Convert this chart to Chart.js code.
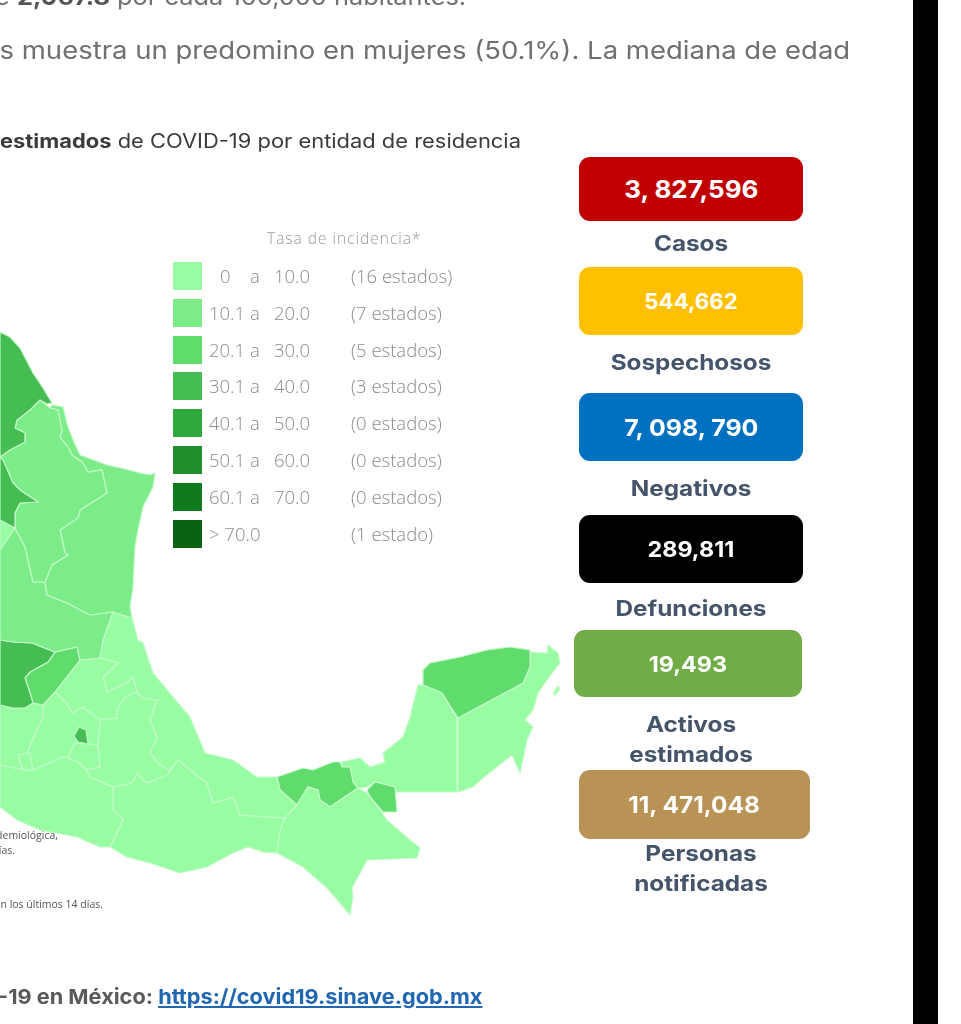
<!DOCTYPE html>
<html lang="es">
<head>
<meta charset="utf-8">
<title>Casos activos estimados de COVID-19 por entidad de residencia</title>
<script src="https://cdn.jsdelivr.net/npm/chart.js@4"></script>
<style>
  html, body { margin: 0; padding: 0; background: #fff; }
  #page { position: relative; width: 961px; height: 1024px; overflow: hidden; font-family: Inter, "Open Sans", sans-serif; }
  #mapa { position: absolute; left: 0; top: 0; }
  .abs { position: absolute; white-space: nowrap; }
  #franja { position: absolute; left: 913px; top: 0; width: 25px; height: 1024px; background: #000; }
  .parrafo { color: #707070; font-size: 24.5px; transform-origin: left center; }
  .titulo { color: #3a3a3a; font-size: 19.5px; transform: scaleX(1.123); transform-origin: left center; }
  .tarjeta { position: absolute; border-radius: 11px; color: #fff; font-weight: 700; display: flex; align-items: center; justify-content: center; }
  .tarjeta span { display: block; transform: scaleX(1.06); }
  .etiqueta { position: absolute; color: #44546a; font-weight: 700; font-size: 21.5px; line-height: 30px; text-align: center; transform: translateX(-50%) scaleX(1.13); white-space: nowrap; }
  .leyenda { font-family: "Open Sans", sans-serif; font-weight: 300; color: #8b8b8b; font-size: 18.5px; line-height: 24px; }
  .muestra { position: absolute; left: 173px; width: 29px; height: 28px; }
  .nota { font-family: "Open Sans", sans-serif; color: #555; font-size: 10.5px; }
  #pie { left: -72px; top: 984px; font-size: 20.5px; font-weight: 700; color: #5a5a5a; transform: scaleX(1.06); transform-origin: left center; }
  #pie a { color: #1f67b0; text-decoration: underline; }
</style>
</head>
<body>
<div id="page">
  <canvas id="mapa" width="961" height="1024"></canvas>
  <div id="franja"></div>
  <div class="abs parrafo" style="left:-5px;top:-18px;font-size:23.5px;transform:scaleX(1.08)">e <b style="color:#555">2,967.8</b> por cada 100,000 habitantes.</div>
  <div class="abs parrafo" style="left:-17px;top:35px;transform:scaleX(1.123)">os muestra un predomino en mujeres (50.1%). La mediana de edad</div>
  <div class="abs titulo" style="left:0;top:129px"><b>estimados</b> de COVID-19 por entidad de residencia</div>
  <div class="abs leyenda" style="left:267px;top:226px;font-size:15.5px;color:#999;letter-spacing:1px">Tasa de incidencia*</div>
  <div id="leyenda"></div>
  <div id="tarjetas"></div>
  <div class="abs nota" style="right:903px;top:828px">Epidemiológica,</div>
  <div class="abs nota" style="right:946px;top:843px">días.</div>
  <div class="abs nota" style="right:858px;top:897px">en los últimos 14 días.</div>
  <div class="abs" id="pie">COVID-19 en México: <a href="https://covid19.sinave.gob.mx">https://covid19.sinave.gob.mx</a></div>
</div>
<script>
// rangos de la leyenda
const rangeLow = ['0', '10.1', '20.1', '30.1', '40.1', '50.1', '60.1', '> 70.0'];
const rangeHigh = ['10.0', '20.0', '30.0', '40.0', '50.0', '60.0', '70.0', ''];
const stateCounts = ['(16 estados)', '(7 estados)', '(5 estados)', '(3 estados)', '(0 estados)', '(0 estados)', '(0 estados)', '(1 estado)'];
const rangeColors = ['#98fda2', '#7bec87', '#5fdc6c', '#45bd52', '#2fa83d', '#1f902b', '#107a1c', '#0a6312'];

// tarjetas
const cardValues = ['3, 827,596', '544,662', '7, 098, 790', '289,811', '19,493', '11, 471,048'];
const cardLabels = ['Casos', 'Sospechosos', 'Negativos', 'Defunciones', 'Activos<br>estimados', 'Personas<br>notificadas'];
const cardColors = ['#c00000', '#ffc000', '#0070c0', '#000000', '#70ad47', '#b99255'];

// contornos de las entidades
const coahuila = [[0,332],[10,337],[20,348],[33,373],[43,388],[52,403],[47,404],[40,400],[30,410],[17,420],[15,428],[25,433],[25,442],[10,450],[0,457]];
const zacatecas = [[0,457],[3,460],[13,483],[20,490],[38,502],[20,503],[15,513],[15,528],[0,520]];
const aguascal = [[0,520],[15,528],[0,550]];
const nuevoLeon = [[40,400],[30,410],[17,420],[15,428],[25,433],[25,442],[10,450],[0,457],[3,460],[13,483],[20,490],[38,502],[20,503],[15,513],[15,528],[25,547],[33,582],[45,582],[52,565],[68,555],[65,553],[60,530],[78,518],[80,510],[107,493],[102,470],[88,472],[82,462],[72,455],[68,447],[60,437],[62,430],[58,410],[50,408]];
const tamaulipas = [[50,408],[52,405],[63,407],[68,427],[74,442],[80,455],[107,465],[125,469],[140,473],[150,475],[155,473],[153,487],[143,507],[138,530],[135,547],[133,587],[130,607],[132,618],[113,612],[90,615],[67,603],[47,595],[45,582],[52,565],[68,555],[65,553],[60,530],[78,518],[80,510],[107,493],[102,470],[88,472],[82,462],[72,455],[68,447],[60,437],[62,430],[58,410]];
const sanLuis = [[0,550],[15,528],[25,547],[33,582],[45,582],[47,595],[67,603],[90,615],[113,612],[103,640],[100,658],[80,660],[77,647],[55,652],[32,643],[13,642],[0,640]];
const guanajuato = [[0,640],[13,642],[32,643],[55,652],[48,662],[30,672],[25,678],[30,693],[33,703],[25,708],[13,708],[0,705]];
const queretaro = [[77,647],[80,660],[55,692],[43,705],[33,703],[30,693],[25,678],[30,672],[48,662],[55,652]];
const hidalgo = [[80,660],[100,658],[118,663],[103,677],[107,692],[127,683],[133,677],[137,692],[125,697],[117,710],[117,718],[100,720],[83,707],[72,713],[67,703],[55,692]];
const veracruz = [[113,612],[132,618],[138,640],[143,643],[153,673],[173,697],[190,717],[205,753],[233,760],[257,777],[277,777],[280,790],[297,805],[285,818],[240,815],[233,797],[213,803],[207,783],[187,767],[178,760],[170,770],[160,765],[150,753],[157,737],[150,720],[157,700],[143,698],[137,692],[133,677],[127,683],[107,692],[103,677],[118,663],[100,658],[103,640]];
const puebla = [[137,692],[143,698],[157,700],[150,720],[157,737],[150,753],[160,765],[170,770],[178,760],[167,775],[147,783],[137,773],[132,783],[113,787],[90,777],[87,770],[100,767],[98,745],[100,720],[117,718],[117,710],[125,697]];
const tlaxcala = [[102,723],[118,718],[140,733],[120,742],[107,737]];
const cdmx = [[74,736],[79,727],[86,730],[88,744],[78,742]];
const morelos = [[68,758],[75,743],[98,745],[100,767],[87,770],[78,762]];
const edomex = [[43,705],[55,692],[67,703],[72,713],[83,707],[100,720],[98,745],[75,743],[68,758],[63,757],[33,770],[30,753],[27,753],[43,717]];
const michoacan = [[0,705],[13,708],[25,708],[33,703],[43,705],[43,717],[27,753],[18,755],[22,768],[25,770],[0,765]];
const colima = [[18,755],[27,753],[30,753],[33,770],[25,770],[22,768]];
const guerrero = [[0,765],[25,770],[33,770],[63,757],[68,758],[78,762],[87,770],[90,777],[113,787],[113,810],[123,820],[110,847],[100,847],[77,837],[40,830],[17,820],[0,807]];
const oaxaca = [[113,787],[132,783],[137,773],[147,783],[167,775],[178,760],[187,767],[207,783],[213,803],[233,797],[240,815],[285,818],[280,830],[277,853],[263,852],[248,847],[233,853],[207,867],[180,873],[150,863],[127,857],[110,847],[123,820],[113,810]];
const chiapas = [[280,830],[285,818],[297,805],[308,787],[318,790],[320,800],[330,807],[358,788],[367,793],[380,810],[387,820],[410,840],[420,848],[417,858],[367,860],[352,888],[353,897],[350,915],[327,888],[303,867],[277,853]];
const tabasco = [[277,777],[303,768],[313,770],[333,762],[340,762],[342,767],[350,767],[353,782],[358,788],[330,807],[320,800],[318,790],[308,787],[297,805],[280,790]];
const tabascoEste = [[375,782],[395,787],[397,812],[383,812],[370,797],[367,790]];
const campeche = [[418,685],[423,685],[442,693],[457,718],[457,792],[397,792],[395,787],[375,782],[367,787],[358,788],[353,782],[350,767],[342,767],[342,762],[360,758],[370,767],[385,762],[383,753],[403,737],[410,717]];
const yucatan = [[423,670],[430,663],[460,657],[487,650],[510,647],[530,650],[530,667],[523,683],[497,697],[458,718],[442,693],[423,685]];
const quintanaRoo = [[530,652],[547,653],[548,645],[558,653],[560,663],[552,673],[538,693],[533,710],[525,720],[533,727],[527,740],[520,773],[512,755],[497,767],[483,778],[473,787],[458,792],[458,718],[497,697],[523,683],[530,667]];
const cozumel = [[553,693],[558,686],[560,689],[555,695]];

// entidad y su rango de color
const stateShapes = [cdmx, coahuila, zacatecas, aguascal, nuevoLeon, tamaulipas, sanLuis, guanajuato, queretaro, hidalgo, veracruz, puebla, tlaxcala, morelos, edomex, michoacan, colima, guerrero, oaxaca, chiapas, tabasco, tabascoEste, campeche, yucatan, quintanaRoo, cozumel];
const stateRanks = [3, 3, 3, 0, 1, 1, 1, 3, 2, 0, 0, 0, 0, 0, 0, 0, 0, 0, 0, 0, 2, 2, 0, 2, 0, 0];

// geometria de la pagina
const legendTop = 262, legendStep = 36.8;
const cardBoxes = [[579,157,224,64],[579,267,224,68],[579,393,224,68],[579,515,224,68],[574,630,228,67],[579,770,231,69]];
const cardFonts = [24.5, 21, 23.5, 22, 22, 23];
const labelSpots = [[691,228],[691,347],[691,473],[691,593],[691,709],[701,838]];

const leyenda = document.getElementById('leyenda');
rangeLow.forEach((low, i) => {
    const top = legendTop + i * legendStep;
    const row = document.createElement('div');
    row.innerHTML = `<div class="muestra" style="top:${top}px;background:${rangeColors[i]}"></div>`
        + `<div class="abs leyenda" style="left:${i == 0 ? 220 : 209}px;top:${top + 2}px">${low}</div>`
        + (rangeHigh[i] ? `<div class="abs leyenda" style="left:250px;top:${top + 2}px">a</div>`
        + `<div class="abs leyenda" style="left:274px;top:${top + 2}px">${rangeHigh[i]}</div>` : '')
        + `<div class="abs leyenda" style="left:351px;top:${top + 2}px">${stateCounts[i]}</div>`;
    leyenda.appendChild(row);
});

const tarjetas = document.getElementById('tarjetas');
cardValues.forEach((value, i) => {
    const [x, y, w, h] = cardBoxes[i];
    const [lx, ly] = labelSpots[i];
    tarjetas.innerHTML += `<div class="tarjeta" style="left:${x}px;top:${y}px;width:${w}px;height:${h}px;background:${cardColors[i]};font-size:${cardFonts[i]}px"><span>${value}</span></div>`
        + `<div class="etiqueta" style="left:${lx}px;top:${ly}px">${cardLabels[i]}</div>`;
});

const estados = stateShapes.map((shape, i) => ({
    data: shape.concat([shape[0]]).map(p => ({ x: p[0], y: p[1] })),
    showLine: true,
    fill: 'shape',
    backgroundColor: rangeColors[stateRanks[i]],
    borderColor: '#c4f9ca',
    borderWidth: 1.2,
    pointRadius: 0,
    tension: 0
}));

new Chart('mapa', {
    type: 'scatter',
    data: { datasets: estados },
    options: {
        responsive: false,
        animation: false,
        events: [],
        plugins: { legend: { display: false }, tooltip: { enabled: false } },
        scales: {
            x: { type: 'linear', min: 0, max: 961, display: false },
            y: { type: 'linear', min: 0, max: 1024, reverse: true, display: false }
        }
    }
});
</script>
</body>
</html>
